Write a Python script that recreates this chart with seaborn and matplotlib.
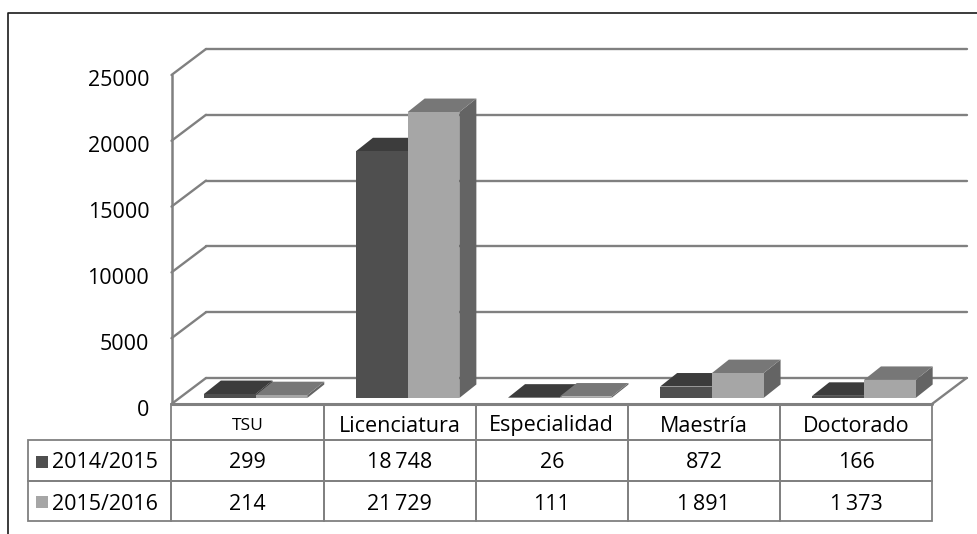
#3D style bar chart with data table underneath

import numpy as np
import pandas as pd
import matplotlib
matplotlib.use("Agg")
import matplotlib.pyplot as plt
import seaborn as sns
from matplotlib.lines import Line2D
from matplotlib.patches import Polygon
from matplotlib.transforms import Affine2D, IdentityTransform

categories = ["TSU", "Licenciatura", "Especialidad", "Maestría", "Doctorado"]
series_names = ["2014/2015", "2015/2016"]
values_2014 = [299, 18748, 26, 872, 166]
values_2015 = [214, 21729, 111, 1891, 1373]
y_ticks = [0, 5000, 10000, 15000, 20000, 25000]

W, H = 977, 534
front_colors = ["#4f4f4f", "#a6a6a6"]
top_colors = ["#3c3c3c", "#777777"]
side_colors = ["#333333", "#646464"]
line_color = "#808080"

sns.set_theme(style="white")
plt.rcParams["font.family"] = ["Open Sans", "DejaVu Sans"]

df = pd.DataFrame({
    "cat": categories * 2,
    "year": np.repeat(series_names, len(categories)),
    "value": values_2014 + values_2015,
})

fig = plt.figure(figsize=(W / 100, H / 100), dpi=100)
ax = fig.add_axes([171.5 / W, (H - 404) / H, 760.5 / W, 329 / H])
sns.barplot(data=df, x="cat", y="value", hue="year", palette=front_colors,
            saturation=1, width=0.68, linewidth=0, legend=False, ax=ax)
ax.set_xlim(-0.5, 4.5)
ax.set_ylim(0, 25000)
ax.patch.set_visible(False)
sns.despine(ax=ax, left=True, bottom=True)
ax.set_xlabel("")
ax.set_ylabel("")
ax.set_xticks([])
ax.set_yticks(y_ticks)
ax.tick_params(axis="y", length=0, pad=16, labelsize=15.5, labelcolor="#000000")
for lab in ax.get_yticklabels():
    lab.set_transform(lab.get_transform() + Affine2D().translate(0, -3.5))

# walls, pixel depth of the chart box
wall_dx, wall_dy = 34.5, 26
ident = IdentityTransform()


def px(x, y):
    return ax.transData.transform((x, y))


def seg(p0, p1, lw=1.7, z=1):
    ax.add_line(Line2D([p0[0], p1[0]], [p0[1], p1[1]], transform=ident, color=line_color,
                       lw=lw, clip_on=False, zorder=z, solid_capstyle="round"))


for v in y_ticks:
    a = px(-0.5, v)
    b = px(4.5, v)
    seg(a, a + [wall_dx, wall_dy])
    seg(a + [wall_dx, wall_dy], b + [wall_dx, wall_dy])
seg(px(-0.5, 0), px(-0.5, 25000), lw=1.8)
seg(px(4.5, 0), px(4.5, 0) + [wall_dx, wall_dy])
seg(px(-0.5, 0), px(4.5, 0), lw=2.2, z=2)

# bars sit a bit behind the front edge and get a top and side face
shift_x, shift_y = 8, 6
bar_dx, bar_dy = 17, 13.5
for i, bars in enumerate(ax.containers):
    for j, p in enumerate(bars):
        z = 3 + j + i * 0.1
        p.set_transform(ax.transData + Affine2D().translate(shift_x, shift_y))
        p.set_clip_on(False)
        p.set_zorder(z + 0.02)
        x0 = p.get_x()
        x1 = x0 + p.get_width()
        h = p.get_height()
        br = px(x1, 0) + [shift_x, shift_y]
        tl = px(x0, h) + [shift_x, shift_y]
        tr = px(x1, h) + [shift_x, shift_y]
        d = np.array([bar_dx, bar_dy])
        ax.add_patch(Polygon([br, tr, tr + d, br + d], closed=True, transform=ident,
                             fc=side_colors[i], ec="none", clip_on=False, zorder=z))
        ax.add_patch(Polygon([tl, tr, tr + d, tl + d], closed=True, transform=ident,
                             fc=top_colors[i], ec="none", clip_on=False, zorder=z + 0.01))

# data table, first column holds the series names
cell_text = []
for name, vals in zip(series_names, (values_2014, values_2015)):
    cell_text.append([name] + [f"{v:,}".replace(",", "\u2009") for v in vals])
tab = ax.table(cellText=cell_text, colLabels=[""] + categories, cellLoc="center",
               bbox=[(28 - 171.5) / 760.5, (404 - 520.5) / 329, (932 - 28) / 760.5, 116.5 / 329])
tab.auto_set_font_size(False)
row_h = [36, 41, 39.5]
text_drop = [4, 2.5, 4]
for (r, c), cell in tab.get_celld().items():
    cell.set_height(row_h[r])
    cell.set_width(143.5 if c == 0 else 152.1)
    cell.set_edgecolor(line_color)
    cell.set_linewidth(1.3)
    cell.set_facecolor("none")
    cell.get_text().set_fontsize(15.5)
    cell.get_text().set_color("#000000")
    cell.get_text().set_transform(Affine2D().translate(0, -text_drop[r]))
    if c == 0:
        cell.get_text().set_ha("left")
        cell.PAD = 24 / 143.5
tab[(0, 0)].visible_edges = ""
tab[(0, 1)].get_text().set_fontsize(12.5)

# legend keys inside the row labels
for i, ypx in enumerate([462, 502]):
    fig.add_artist(Line2D([41.5 / W], [(H - ypx) / H], marker="s", ms=8, mew=0, ls="none",
                          color=front_colors[i], transform=fig.transFigure))

# outer frame, only left and top sides
fig.add_artist(Line2D([7.5 / W, 7.5 / W, 1], [0, (H - 12.5) / H, (H - 12.5) / H],
                      color="#1a1a1a", lw=1.2, transform=fig.transFigure))

fig.savefig("out.png", dpi=100)
